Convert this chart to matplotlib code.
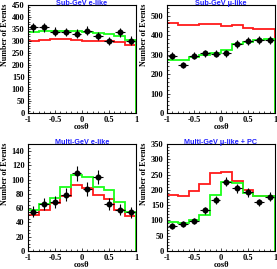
import numpy as np
import matplotlib
matplotlib.use('Agg')
import matplotlib.pyplot as plt
from matplotlib.ticker import MultipleLocator

# bin edges and centres in cos(theta)
edges = [-1.0, -0.8, -0.6, -0.4, -0.2, 0.0, 0.2, 0.4, 0.6, 0.8, 1.0]
centres = [-0.9, -0.7, -0.5, -0.3, -0.1, 0.1, 0.3, 0.5, 0.7, 0.9]

titles = ['Sub-GeV e-like', 'Sub-GeV \u03bc-like',
          'Multi-GeV e-like', 'Multi-GeV \u03bc-like + PC']

# Sub-GeV e-like
data_sge = [357, 357, 339, 338, 331, 343, 321, 299, 336, 302]
err_sge = [18, 18, 18, 18, 18, 18, 17, 17, 18, 17]
green_sge = [337, 340, 342, 342, 340, 338, 333, 331, 322, 304]
red_sge = [300, 305, 309, 307, 306, 301, 300, 299, 296, 282]

# Sub-GeV mu-like
data_sgm = [293, 246, 293, 307, 304, 307, 355, 369, 375, 375]
err_sgm = [18, 16, 18, 18, 18, 18, 19, 19, 20, 20]
green_sgm = [273, 273, 287, 299, 306, 323, 356, 366, 375, 380]
red_sgm = [461, 452, 452, 456, 456, 449, 451, 439, 432, 432]

# Multi-GeV e-like
data_mge = [55, 66, 69, 79, 109, 87, 104, 66, 58, 54]
err_mge = [7.5, 8, 8.5, 9, 10.5, 9.5, 10, 8, 7.5, 7.5]
green_mge = [57, 66, 75, 90, 106, 104, 90, 85, 69, 55]
red_mge = [51, 58, 67, 77, 92, 89, 79, 73, 58, 49]

# Multi-GeV mu-like + PC
data_mgm = [81, 89, 99, 134, 168, 226, 205, 192, 159, 178]
err_mgm = [9, 9.5, 10, 11.5, 13, 15, 14.5, 14, 12.5, 13.5]
green_mgm = [95, 92, 100, 118, 184, 227, 224, 191, 180, 180]
red_mgm = [184, 180, 195, 220, 256, 258, 229, 199, 181, 181]

panels = [
    (data_sge, err_sge, green_sge, red_sge, 450, 50, 10),
    (data_sgm, err_sgm, green_sgm, red_sgm, 555, 100, 20),
    (data_mge, err_mge, green_mge, red_mge, 150, 20, 5),
    (data_mgm, err_mgm, green_mgm, red_mgm, 350, 50, 10),
]

W, H = 277, 269
fig = plt.figure(figsize=(W / 100, H / 100), dpi=100)

# axes boxes in pixels: left, top, right, bottom
boxes = [(28, 5, 136, 113), (167, 5, 275, 113),
         (28, 144, 136, 251), (167, 144, 275, 251)]

serif = 'Liberation Serif'
sans = 'Liberation Sans'

for i, (box, p) in enumerate(zip(boxes, panels)):
    l, t, r, b = box
    ax = fig.add_axes([l / W, 1 - b / H, (r - l) / W, (b - t) / H])
    data, err, green, red, ymax, major, minor = p

    ax.stairs(red, edges, baseline=0, color='#ff1a1a', lw=1.3)
    ax.stairs(green, edges, baseline=0, color='#1aff1a', lw=1.3)
    ax.errorbar(centres, data, yerr=err, xerr=0.09, fmt='o', color='black',
                ms=3.3, elinewidth=0.8, capsize=0, zorder=5)

    ax.set_xlim(-1, 1)
    ax.set_ylim(0, ymax)
    ax.xaxis.set_minor_locator(MultipleLocator(0.1))
    ax.yaxis.set_major_locator(MultipleLocator(major))
    ax.yaxis.set_minor_locator(MultipleLocator(minor))
    ax.set_xticks([-1, -0.5, 0, 0.5, 1])
    ax.set_xticklabels(['-1', '-0.5', '0', '0.5', '1'])
    ax.tick_params(which='both', direction='in', top=False, right=False,
                   width=0.5, colors='black')
    ax.tick_params(which='major', length=2.5, pad=2.5, labelsize=6)
    ax.tick_params(axis='x', which='major', pad=2)
    ax.tick_params(which='minor', length=1.3)
    for lab in ax.get_xticklabels() + ax.get_yticklabels():
        lab.set_fontfamily(serif)
        lab.set_fontweight('bold')
    for s in ax.spines.values():
        s.set_linewidth(0.8)

    ax.text(0.5, 0.985, titles[i], transform=ax.transAxes, ha='center',
            va='bottom', color='#2020ff', fontsize=5.2, fontweight='bold',
            family=sans, zorder=10)
    ax.text(-0.215, 1.01, 'Number of Events', transform=ax.transAxes,
            rotation=90, ha='center', va='top', fontsize=5.8,
            fontweight='bold', family=serif)
    ax.text(0.5, -0.095, 'cos\u03b8', transform=ax.transAxes, ha='center',
            va='top', fontsize=6, fontweight='bold', family=serif)

fig.savefig('out.png', dpi=100)
